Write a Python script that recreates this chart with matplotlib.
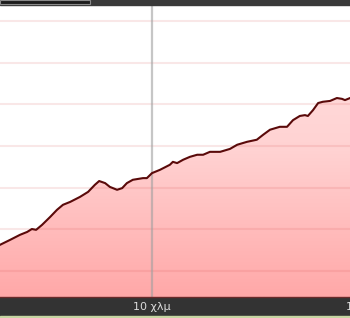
import matplotlib.pyplot as plt
import numpy as np
from matplotlib.colors import LinearSegmentedColormap
from matplotlib.patches import Rectangle


# Elevation profile (distance in km, elevation in m)
distance_km = [6.43, 6.67, 6.90, 7.07, 7.18, 7.28, 7.42, 7.61, 7.77, 7.91,
               8.08, 8.31, 8.50, 8.66, 8.76, 8.90, 9.01, 9.18, 9.30, 9.41,
               9.55, 9.79, 9.88, 10.00, 10.19, 10.42, 10.49, 10.59, 10.73,
               10.89, 11.06, 11.20, 11.36, 11.60, 11.83, 12.00, 12.23, 12.46,
               12.61, 12.77, 13.00, 13.17, 13.31, 13.47, 13.59, 13.66, 13.78,
               13.90, 14.01, 14.18, 14.34, 14.46, 14.53, 14.65]
elevation_m = [163, 175, 187, 194, 201, 199, 211, 230, 247, 259,
               266, 278, 290, 307, 316, 311, 302, 295, 299, 311,
               319, 323, 323, 335, 343, 355, 362, 359, 367,
               374, 379, 379, 386, 386, 393, 403, 410, 415,
               427, 439, 446, 446, 462, 472, 474, 472, 486,
               503, 506, 508, 515, 513, 510, 515]

tick_km = [10, 15]
tick_labels = ['10 χλμ', '15 χλμ']
grid_levels = [100, 200, 300, 400, 500, 600, 700]
marker_km = 10
x_range = (6.432, 14.648)
y_range = (38, 738)


fig = plt.figure(figsize=(3.5, 3.18), dpi=100)
fig.patch.set_facecolor('white')
ax = fig.add_axes([0, 21 / 318, 1, 292 / 318])
ax.set_facecolor('white')

# Pink fill with a vertical gradient, clipped to the area under the profile
fill = ax.fill_between(distance_km, elevation_m, y_range[0], color='none', lw=0)
gradient = np.linspace(0, 1, 256).reshape(-1, 1)
cmap = LinearSegmentedColormap.from_list(
    'pink', ['#ffe2e2', '#ffd2d2', '#ffa8a8'])
img = ax.imshow(gradient, extent=[x_range[0], x_range[1], y_range[0], y_range[1]],
                aspect='auto', cmap=cmap, origin='upper', zorder=1)
img.set_clip_path(fill.get_paths()[0], transform=ax.transData)

# Horizontal grid and the distance marker
for level in grid_levels:
    ax.axhline(level, color='#d04040', alpha=0.12, lw=1.5, zorder=2)
ax.axvline(marker_km, color='#a0a0a0', alpha=0.6, lw=1.6, zorder=2)

# Profile line
ax.plot(distance_km, elevation_m, color='#5a0a0a', lw=1.5, zorder=3)

for side in ['top', 'left', 'right']:
    ax.spines[side].set_visible(False)
ax.spines['bottom'].set_color('#6a2a2a')
ax.spines['bottom'].set_linewidth(1)
ax.set_xticks([])
ax.set_yticks([])
ax.set_xlim(*x_range)
ax.set_ylim(*y_range)

# Distance labels inside the bottom bar (the 15 km one runs off the edge)
for km, label in zip(tick_km, tick_labels):
    ax.text(km, -0.034, label, transform=ax.get_xaxis_transform(),
            ha='center', va='center', color='#dcdcdc', fontsize=8,
            clip_on=False)

# Dark bars at top and bottom, plus thin green strip
fig.add_artist(Rectangle((0, 2 / 318), 1, 19 / 318, transform=fig.transFigure,
                         color='#333333', zorder=-1))
fig.add_artist(Rectangle((0, 0), 1, 2 / 318, transform=fig.transFigure,
                         color='#c6d5a2', zorder=-1))
fig.add_artist(Rectangle((0, 313 / 318), 1, 5 / 318, transform=fig.transFigure,
                         color='#3a3a3a', zorder=5))
fig.add_artist(Rectangle((0, 314.5 / 318), 90 / 350, 3.5 / 318,
                         transform=fig.transFigure, facecolor='#1c1c1c',
                         edgecolor='#8a8a8a', lw=0.8, zorder=6))

fig.savefig('out.png', dpi=100)
